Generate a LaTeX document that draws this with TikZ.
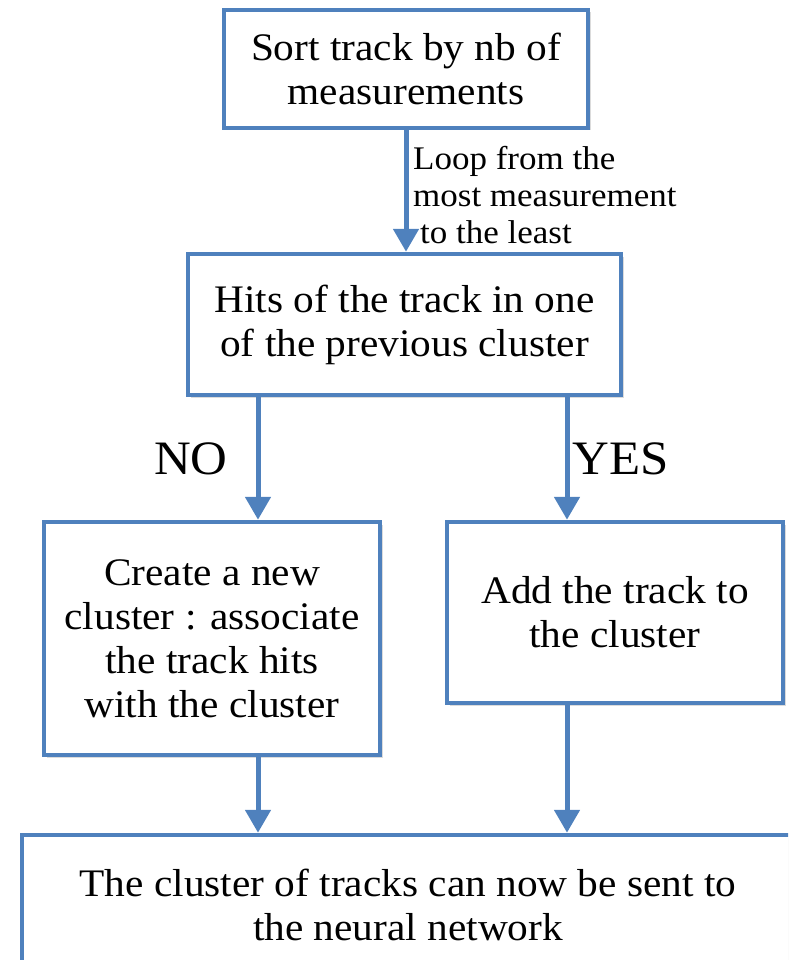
\documentclass[tikz,border=0pt]{standalone}
\usepackage{fontspec}
\setmainfont[FakeStretch=1.06]{Liberation Serif}
\usetikzlibrary{arrows.meta, shadows}
\definecolor{flowblue}{HTML}{4F81BD}
\tikzset{%
  stepbox/.style={draw=flowblue, line width=4.5pt, fill=white, align=center,
                  inner sep=0pt, font=\fontsize{39}{44}\selectfont,
                  drop shadow={shadow xshift=2.5pt, shadow yshift=-2.5pt,
                               fill=black!40, opacity=0.35}},
  flow/.style={draw=flowblue, line width=5pt,
               -{Triangle[length=23pt, width=25pt]}},
  answer/.style={font=\fontsize{48}{50}\selectfont},
}

\begin{document}
\begin{tikzpicture}[x=1pt, y=-1pt]

% page size of the reference, the last box runs off the page
\useasboundingbox (0,0) rectangle (788,960);
\clip (0,0) rectangle (788,960);

% boxes of the flow
\node[stepbox, minimum width=364pt, minimum height=118pt] (sort) at (406,69)
  {Sort track by nb of\\measurements};
\node[stepbox, minimum width=433pt, minimum height=141pt] (hits) at (404.5,324.5)
  {Hits of the track in one\\of the previous cluster};
\node[stepbox, minimum width=336pt, minimum height=233pt] (create) at (212,638.5)
  {Create a new\\cluster : associate\\the track hits\\with the cluster};
\node[stepbox, minimum width=336pt, minimum height=181pt] (add) at (615,612.5)
  {Add the track to\\the cluster};
\node[stepbox, minimum width=772pt, minimum height=140pt] (sent) at (408,905)
  {The cluster of tracks can now be sent to\\the neural network};

% columns of the two branches
\coordinate (nox) at (258,0);
\coordinate (yesx) at (567,0);

% arrows
\draw[flow] (sort.south -| sort) -- (hits.north -| sort);
\draw[flow] (hits.south -| nox) -- (create.north -| nox);
\draw[flow] (hits.south -| yesx) -- (add.north -| yesx);
\draw[flow] (create.south -| nox) -- (sent.north -| nox);
\draw[flow] (add.south -| yesx) -- (sent.north -| yesx);

% labels of the arrows
\node[anchor=west, align=left, inner sep=0pt,
      font=\fontsize{33}{37}\selectfont] (loop) at (413,195)
  {Loop from the\\most measurement\\\hspace*{7pt}to the least};
\node[answer] (no) at (191,459) {NO};
\node[answer] (yes) at (621,459) {YES};

\end{tikzpicture}
\end{document}
